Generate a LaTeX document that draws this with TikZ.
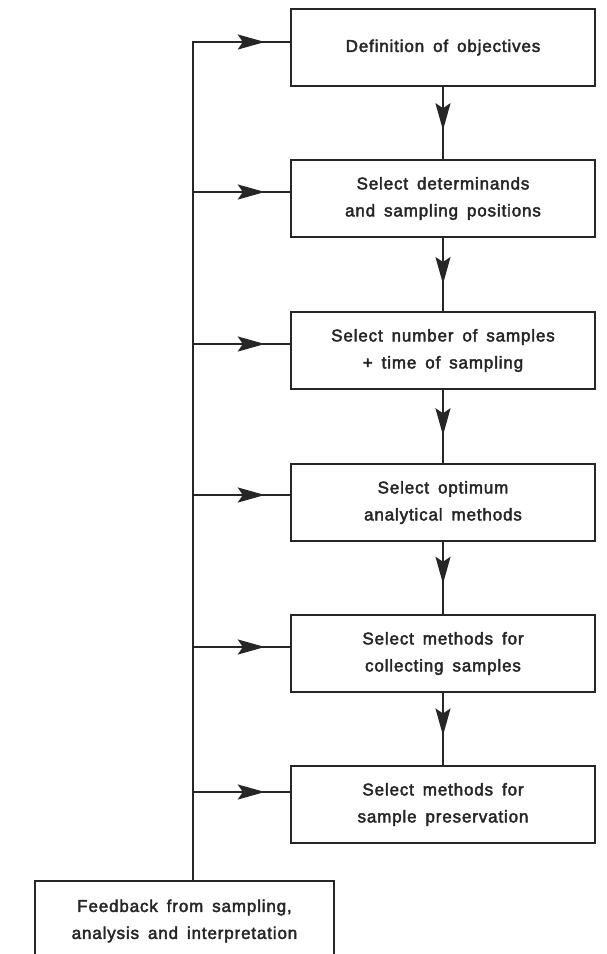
\documentclass[tikz,border=0pt]{standalone}
\usepackage{fontspec}
\setmainfont{Liberation Sans}[LetterSpace=5,WordSpace=1.6,FakeBold=2.5]
\usetikzlibrary{arrows.meta,decorations.markings,calc}
\definecolor{ink}{HTML}{262626}
\begin{document}
\begin{tikzpicture}[x=1pt,y=-1pt,
  stagebox/.style={draw=ink, line width=1.9pt, minimum width=304pt, minimum height=77pt,
    align=center, inner sep=0pt, text=ink, font=\fontsize{17}{27}\selectfont},
  conn/.style={draw=ink, line width=1.9pt},
  midarrow/.style={conn, postaction={decorate}, decoration={markings,
    mark=at position #1 with {\arrow[ink]{Stealth[length=27pt,width=15pt,inset=5pt]}}}},
  midarrow/.default=0.6]
\useasboundingbox (0,0) rectangle (606,954);
\fill[white] (0,0) rectangle (606,954);
% stage boxes
\node[stagebox] (b1) at (443,47.5) {Definition of objectives};
\node[stagebox] (b2) at (443,198.5) {Select determinands\\and sampling positions};
\node[stagebox] (b3) at (443,350.5) {Select number of samples\\+ time of sampling};
\node[stagebox] (b4) at (443,502.5) {Select optimum\\analytical methods};
\node[stagebox] (b5) at (443,653.5) {Select methods for\\collecting samples};
\node[stagebox] (b6) at (443,804.5) {Select methods for\\sample preservation};
% feedback box (bottom runs off the page)
\node[stagebox, minimum width=299pt, minimum height=80pt] (fb) at (184.5,921)
  {Feedback from sampling,\\analysis and interpretation};
% attachment points
\coordinate (e1) at (b1.west |- 0,42);
\coordinate (e2) at (b2.west |- 0,192);
\coordinate (e3) at (b3.west |- 0,344);
\coordinate (e4) at (b4.west |- 0,495);
\coordinate (e5) at (b5.west |- 0,647);
\coordinate (e6) at (b6.west |- 0,792);
\foreach \i in {1,...,6} {\coordinate (s\i) at (193,0 |- e\i);}
% spine
\draw[conn, line cap=rect] (fb.north -| s1) -- (s1);
% feed arrows
\foreach \i in {1,...,6} {\draw[midarrow=0.74] (s\i) -- (e\i);}
% sequence arrows
\draw[midarrow=0.6] (b1.south) -- (b2.north);
\draw[midarrow=0.63] (b2.south) -- (b3.north);
\draw[midarrow=0.62] (b3.south) -- (b4.north);
\draw[midarrow=0.58] (b4.south) -- (b5.north);
\draw[midarrow=0.59] (b5.south) -- (b6.north);
\end{tikzpicture}
\end{document}
